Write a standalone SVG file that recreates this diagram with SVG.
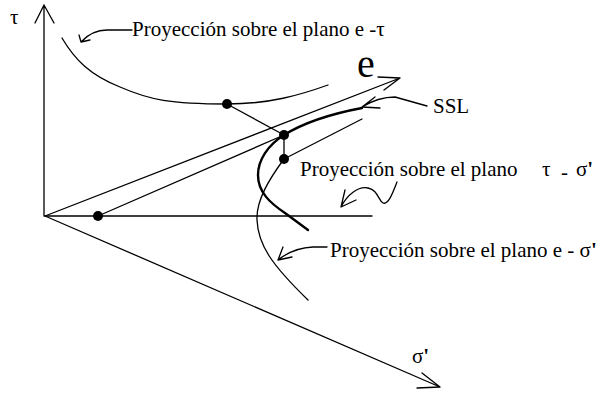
<svg xmlns="http://www.w3.org/2000/svg" width="610" height="393" viewBox="0 0 610 393">
<style>
.ln{fill:none;stroke:#000;stroke-width:1.3;stroke-linecap:round;stroke-linejoin:round}
.thick{fill:none;stroke:#000;stroke-width:2.4;stroke-linecap:round;stroke-linejoin:round}
.dot{fill:#000}
.t{font-family:"Liberation Serif","Times New Roman",serif;font-size:21px;fill:#000}
.big{font-family:"Liberation Serif","Times New Roman",serif;font-size:40px;fill:#000}
.pr{font-weight:bold}
</style>
<rect width="610" height="393" fill="#fff"/>
<g id="axes">
  <path class="ln" d="M44,216 L44,5 M35,23 L44,5 L54,23"/>
  <path class="ln" d="M45,216 L372,216"/>
  <path class="ln" d="M45,216 L440,387 M422,373 L440,387 L417,388"/>
  <path class="ln" d="M45,216 L400,78 M378,77 L400,78 L384,90"/>
  <text class="t" x="10" y="24">τ</text>
  <text class="t" x="412" y="363">σ<tspan class="pr">'</tspan></text>
  <text class="big" x="357" y="77">e</text>
</g>
<g id="connectors">
  <path class="ln" d="M62,38 C75,60 90,75 120,87 C150,100 170,104 227,104 C270,104 300,95 328,85"/>
  <path class="ln" d="M227,104 L284,135 L284,159"/>
  <path class="ln" d="M98,216 L284,135"/>
  <path class="thick" d="M362,108 C330,114 305,122 284,135"/>
  <path class="thick" d="M284,135 C268,145 258,160 258,175 C258,192 270,203 285,213 L308,230"/>
  <path class="ln" d="M362,119 L284,159 C270,178 256,200 257,220 C258,245 272,265 308,300"/>
</g>
<g id="dots">
  <circle class="dot" cx="227" cy="104" r="5"/>
  <circle class="dot" cx="284" cy="135" r="5"/>
  <circle class="dot" cx="284" cy="159" r="5"/>
  <circle class="dot" cx="98" cy="216" r="5"/>
</g>
<g id="label-e-tau">
  <path class="ln" d="M132,30 L107,30 Q92,30 81,42 M79,35 L81,42 L90,40"/>
  <text class="t" x="132" y="36">Proyección sobre el plano e -τ</text>
</g>
<g id="label-ssl">
  <path class="ln" d="M427,106 L395,97 Q378,97 362,107 M375,97 L362,107 L380,108"/>
  <text class="t" x="433" y="113">SSL</text>
</g>
<g id="label-tau-sigma">
  <path class="ln" d="M397,182 C392,195 388,205 383,203 C378,200 378,190 368,188 C358,186 347,195 341,207 M345,190 L341,207 L356,200"/>
  <text class="t" x="300" y="176">Proyección sobre el plano<tspan x="542">τ</tspan><tspan x="561" y="179">-</tspan><tspan x="576" y="176">σ</tspan><tspan class="pr">'</tspan></text>
</g>
<g id="label-e-sigma">
  <path class="ln" d="M327,247 L313,247 Q293,248 278,260 M283,247 L278,260 L292,257"/>
  <text class="t" x="330" y="257">Proyección sobre el plano e - σ<tspan class="pr">'</tspan></text>
</g>
</svg>
